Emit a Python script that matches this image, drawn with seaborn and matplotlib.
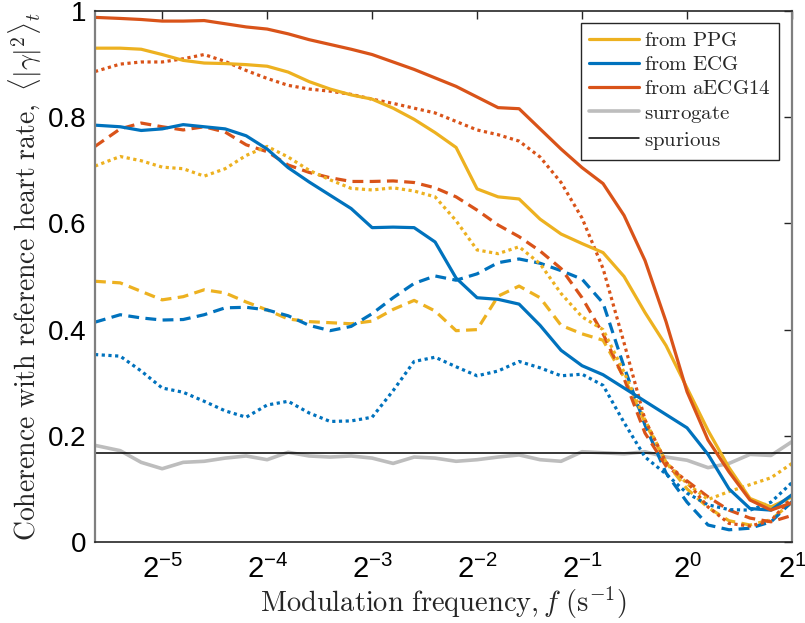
import numpy as np
import pandas as pd
import matplotlib
matplotlib.use("Agg")
import matplotlib.pyplot as plt
import seaborn as sns
from matplotlib.lines import Line2D

# ---------------- data (log2 of modulation frequency) ----------------
log2_freq = [-5.64, -5.4, -5.2, -5.0, -4.8, -4.6, -4.4, -4.2, -4.0, -3.8,
             -3.6, -3.4, -3.2, -3.0, -2.8, -2.6, -2.4, -2.2, -2.0, -1.8,
             -1.6, -1.4, -1.2, -1.0, -0.8, -0.6, -0.4, -0.2, 0.0, 0.2,
             0.4, 0.6, 0.8, 1.0]

ppg_solid = [0.930, 0.930, 0.928, 0.918, 0.907, 0.902, 0.901, 0.899, 0.896, 0.885,
             0.867, 0.853, 0.842, 0.834, 0.817, 0.796, 0.771, 0.743, 0.665, 0.650,
             0.646, 0.608, 0.580, 0.562, 0.545, 0.500, 0.432, 0.370, 0.290, 0.210,
             0.140, 0.082, 0.066, 0.085]
ecg_solid = [0.785, 0.782, 0.775, 0.778, 0.786, 0.782, 0.778, 0.765, 0.740, 0.705,
             0.678, 0.653, 0.628, 0.592, 0.593, 0.592, 0.565, 0.497, 0.460, 0.457,
             0.448, 0.408, 0.361, 0.332, 0.315, 0.290, 0.265, 0.240, 0.215, 0.165,
             0.100, 0.063, 0.060, 0.089]
aecg_solid = [0.988, 0.986, 0.984, 0.981, 0.981, 0.982, 0.976, 0.970, 0.966, 0.957,
              0.946, 0.937, 0.928, 0.918, 0.904, 0.890, 0.874, 0.858, 0.838, 0.818,
              0.816, 0.778, 0.740, 0.705, 0.675, 0.615, 0.530, 0.415, 0.283, 0.192,
              0.132, 0.079, 0.060, 0.074]

ppg_dashed = [0.491, 0.488, 0.472, 0.456, 0.462, 0.475, 0.469, 0.452, 0.437, 0.420,
              0.415, 0.413, 0.411, 0.416, 0.438, 0.455, 0.435, 0.398, 0.400, 0.463,
              0.482, 0.460, 0.408, 0.392, 0.380, 0.310, 0.225, 0.150, 0.100, 0.065,
              0.040, 0.032, 0.042, 0.075]
ecg_dashed = [0.414, 0.428, 0.422, 0.418, 0.419, 0.428, 0.441, 0.442, 0.437, 0.426,
              0.408, 0.398, 0.406, 0.430, 0.460, 0.487, 0.501, 0.493, 0.505, 0.526,
              0.533, 0.525, 0.511, 0.495, 0.450, 0.330, 0.220, 0.130, 0.075, 0.032,
              0.023, 0.026, 0.038, 0.076]
aecg_dashed = [0.745, 0.778, 0.789, 0.782, 0.776, 0.782, 0.772, 0.748, 0.735, 0.710,
               0.696, 0.686, 0.679, 0.679, 0.680, 0.677, 0.667, 0.650, 0.625, 0.597,
               0.575, 0.548, 0.515, 0.460, 0.392, 0.308, 0.205, 0.143, 0.115, 0.085,
               0.060, 0.045, 0.038, 0.050]

ppg_dotted = [0.708, 0.726, 0.718, 0.706, 0.703, 0.689, 0.703, 0.728, 0.745, 0.725,
              0.700, 0.682, 0.666, 0.663, 0.667, 0.661, 0.650, 0.605, 0.550, 0.543,
              0.556, 0.524, 0.468, 0.424, 0.400, 0.320, 0.230, 0.150, 0.110, 0.080,
              0.095, 0.108, 0.121, 0.148]
ecg_dotted = [0.353, 0.350, 0.322, 0.290, 0.282, 0.265, 0.247, 0.235, 0.258, 0.265,
              0.243, 0.227, 0.228, 0.235, 0.285, 0.340, 0.348, 0.330, 0.313, 0.322,
              0.340, 0.328, 0.313, 0.316, 0.295, 0.225, 0.160, 0.128, 0.092, 0.070,
              0.061, 0.060, 0.075, 0.112]
aecg_dotted = [0.886, 0.900, 0.904, 0.904, 0.910, 0.918, 0.905, 0.888, 0.873, 0.860,
               0.853, 0.849, 0.843, 0.834, 0.826, 0.817, 0.808, 0.792, 0.776, 0.767,
               0.755, 0.725, 0.677, 0.610, 0.515, 0.375, 0.230, 0.150, 0.113, 0.066,
               0.035, 0.030, 0.040, 0.085]

surrogate = [0.182, 0.172, 0.150, 0.138, 0.150, 0.152, 0.158, 0.162, 0.155, 0.169,
             0.162, 0.160, 0.162, 0.158, 0.148, 0.160, 0.158, 0.152, 0.155, 0.160,
             0.164, 0.155, 0.152, 0.170, 0.168, 0.166, 0.170, 0.160, 0.154, 0.140,
             0.148, 0.165, 0.163, 0.189]
spurious_level = 0.167

x_tick_exponents = [-5, -4, -3, -2, -1, 0, 1]
y_ticks = [0, 0.2, 0.4, 0.6, 0.8, 1.0]
y_tick_labels = ["0", "0.2", "0.4", "0.6", "0.8", "1"]
legend_labels = ["from PPG", "from ECG", "from aECG14", "surrogate", "spurious"]

# ---------------- style ----------------
sns.set_style("white")
plt.rcParams["font.family"] = ["Liberation Sans", "DejaVu Sans"]
plt.rcParams["mathtext.fontset"] = "custom"
plt.rcParams["mathtext.rm"] = "Liberation Sans"
plt.rcParams["mathtext.it"] = "Liberation Sans:italic"
plt.rcParams["mathtext.bf"] = "Liberation Sans:bold"

C_PPG = "#EDB120"
C_ECG = "#0072BD"
C_AECG = "#D95319"
C_SUR = "#BDBDBD"

freq = 2.0 ** np.array(log2_freq)
series = {
    "ppg_solid": ppg_solid, "ecg_solid": ecg_solid, "aecg_solid": aecg_solid,
    "ppg_dashed": ppg_dashed, "ecg_dashed": ecg_dashed, "aecg_dashed": aecg_dashed,
    "ppg_dotted": ppg_dotted, "ecg_dotted": ecg_dotted, "aecg_dotted": aecg_dotted,
    "surrogate": surrogate,
}
df = pd.concat([pd.DataFrame({"freq": freq, "coh": v, "series": k})
                for k, v in series.items()], ignore_index=True)

fig = plt.figure(figsize=(8.05, 6.23), dpi=100)
ax = fig.add_axes([95 / 805, 81 / 623, 697 / 805, 531 / 623])

LW = 2.3
DASH = (0, (3.4, 2.0))
DOT = (0, (1.0, 1.1))

def draw(name, color, ls, lw=LW):
    sub = df[df["series"] == name]
    sns.lineplot(data=sub, x="freq", y="coh", ax=ax, color=color, lw=lw,
                 linestyle=ls, legend=False, solid_capstyle="butt",
                 dash_capstyle="butt", solid_joinstyle="round")

draw("surrogate", C_SUR, "-", lw=2.6)
ax.axhline(spurious_level, color="black", lw=1.1)

draw("ppg_dashed", C_PPG, DASH)
draw("ecg_dashed", C_ECG, DASH)
draw("aecg_dashed", C_AECG, DASH)
draw("ppg_dotted", C_PPG, DOT)
draw("ecg_dotted", C_ECG, DOT)
draw("aecg_dotted", C_AECG, DOT)
draw("ppg_solid", C_PPG, "-")
draw("ecg_solid", C_ECG, "-")
draw("aecg_solid", C_AECG, "-")

ax.set_xscale("log", base=2)
ax.set_xlim(2.0 ** -5.64, 2.0 ** 1)
ax.set_ylim(0, 1)
ax.set_xticks([2.0 ** e for e in x_tick_exponents])
ax.set_xticklabels([r"$2^{%d}$" % e for e in x_tick_exponents])
ax.xaxis.set_minor_locator(matplotlib.ticker.NullLocator())
ax.set_yticks(y_ticks)
ax.set_yticklabels(y_tick_labels)
ax.tick_params(axis="both", which="major", direction="in", length=6, width=1.0,
               top=True, right=True, colors="#262626", labelcolor="black")
ax.tick_params(axis="x", labelsize=21, pad=9)
ax.tick_params(axis="y", labelsize=20, pad=6)

for side in ["left", "right"]:
    ax.spines[side].set_color("#7f7f7f")
    ax.spines[side].set_linewidth(1.6)
for side in ["top", "bottom"]:
    ax.spines[side].set_color("#262626")
    ax.spines[side].set_linewidth(1.2)

ax.set_xlabel(r"$\mathrm{Modulation\ frequency,}f\ (\mathrm{s}^{-1})$",
              fontsize=20.5, math_fontfamily="cm", labelpad=1)
ax.set_ylabel(r"$\mathrm{Coherence\ with\ reference\ heart\ rate,}\ \langle|\gamma|^2\rangle_t$",
              fontsize=20, math_fontfamily="cm", labelpad=3)

# legend
handles = [Line2D([], [], color=C_PPG, lw=LW),
           Line2D([], [], color=C_ECG, lw=LW),
           Line2D([], [], color=C_AECG, lw=LW),
           Line2D([], [], color=C_SUR, lw=2.6),
           Line2D([], [], color="black", lw=1.1)]
leg = ax.legend(handles, [r"$\mathrm{%s}$" % s.replace(" ", r"\ ") for s in legend_labels],
                loc="upper right", bbox_to_anchor=(779 / 805, 600 / 623),
                bbox_transform=fig.transFigure, borderaxespad=0,
                fontsize=15, frameon=True, fancybox=False, framealpha=1,
                edgecolor="#262626", handlelength=2.4, handletextpad=0.25,
                labelspacing=0.25, borderpad=0.38)
leg.get_frame().set_linewidth(1.0)
for t in leg.get_texts():
    t.set_math_fontfamily("cm")

fig.savefig("out.png", dpi=100)
